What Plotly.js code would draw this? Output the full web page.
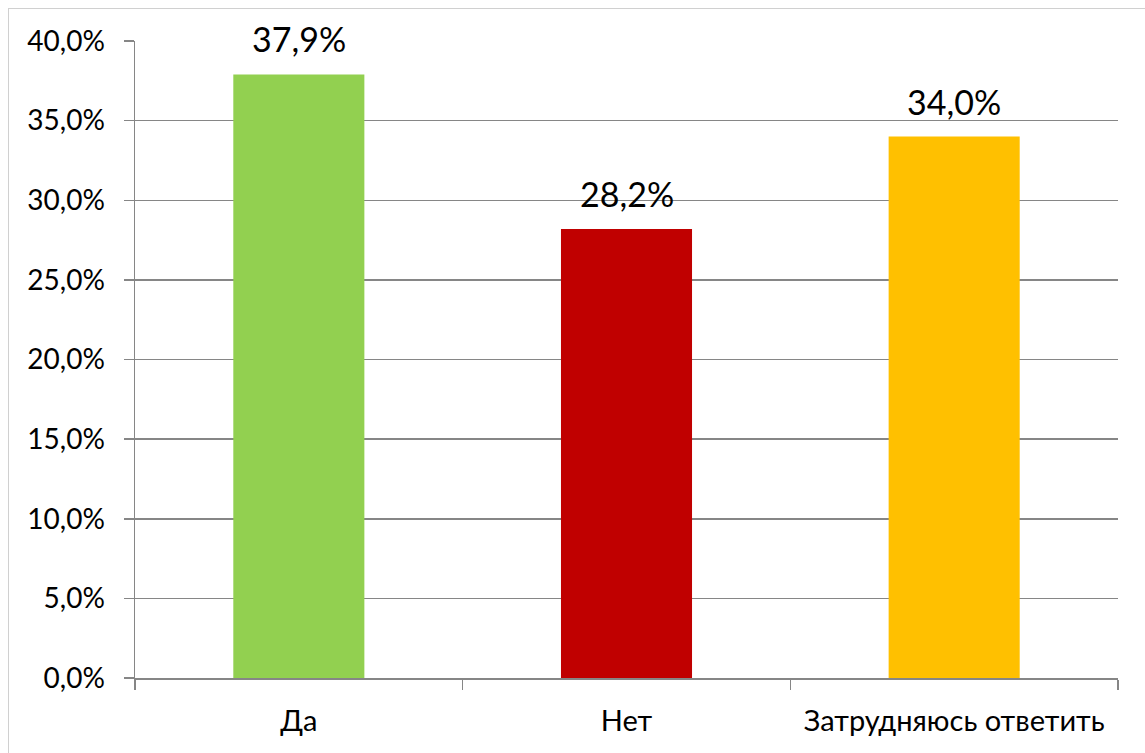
<!DOCTYPE html>
<html>
<head>
<meta charset="utf-8">
<script src="https://cdn.plot.ly/plotly-3.0.1.min.js"></script>
<style>
html,body{margin:0;padding:0;overflow:hidden;background:#fff;}
#frame{position:absolute;left:8px;top:8px;width:1200px;height:800px;border:1px solid #d0d0d0;pointer-events:none;z-index:5;}
#chart{position:absolute;left:0;top:0;width:1145px;height:753px;}
</style>
</head>
<body>
<div id="chart"></div>
<div id="frame"></div>
<script>
var categories = ["Да", "Нет", "Затрудняюсь ответить"];
var values = [37.9, 28.2, 34.0];
var barColors = ["#92d050", "#c00000", "#ffc000"];
var labels = ["37,9%", "28,2%", "34,0%"];
var tickVals = [0, 5, 10, 15, 20, 25, 30, 35, 40];
var tickText = ["0,0%", "5,0%", "10,0%", "15,0%", "20,0%", "25,0%", "30,0%", "35,0%", "40,0%"];

var FONT = "Lato, 'Open Sans', sans-serif";

var trace = {
  type: "bar",
  x: categories,
  y: values,
  marker: {color: barColors, line: {width: 0}},
  hoverinfo: "none"
};

var annotations = categories.map(function(c, i){
  return {x: c, y: values[i], text: labels[i], showarrow: false,
    xref: "x", yref: "y", yanchor: "bottom", yshift: 13,
    font: {family: FONT, size: 34, color: "#000"}};
});

var layout = {
  width: 1145, height: 753,
  margin: {l: 135, r: 27, t: 41, b: 75, pad: 0},
  paper_bgcolor: "#fff", plot_bgcolor: "#fff",
  showlegend: false,
  bargap: 0.6,
  font: {family: FONT, color: "#000"},
  xaxis: {
    type: "category",
    showline: true, linecolor: "#868686", linewidth: 1.5,
    ticks: "outside", tickson: "boundaries", ticklen: 10, tickcolor: "#868686", tickwidth: 1.5,
    showgrid: false,
    tickfont: {family: FONT, size: 29, color: "#000"},
    ticklabelstandoff: 17
  },
  yaxis: {
    range: [0, 40],
    tickvals: tickVals, ticktext: tickText,
    showline: true, linecolor: "#868686", linewidth: 1.5,
    ticks: "outside", ticklen: 10, tickcolor: "#868686", tickwidth: 1.5,
    showgrid: true, gridcolor: "#868686", gridwidth: 1.5,
    zeroline: false,
    tickfont: {family: FONT, size: 28, color: "#000"},
    ticklabelstandoff: 13
  },
  annotations: annotations
};

Plotly.newPlot("chart", [trace], layout, {displayModeBar: false, staticPlot: true});
</script>
</body>
</html>
